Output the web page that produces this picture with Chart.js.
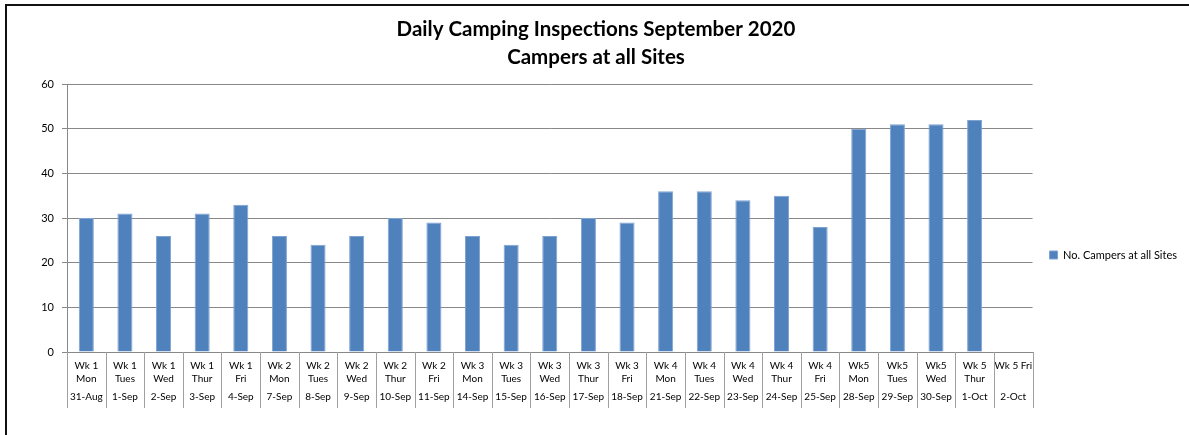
<!DOCTYPE html>
<html>
<head>
<meta charset="utf-8">
<script src="https://cdn.jsdelivr.net/npm/chart.js@4"></script>
<style>
  html, body { margin: 0; padding: 0; background: #fff; }
  #wrap { position: relative; width: 1189px; height: 435px; }
  #frame {
    position: absolute; left: 5px; top: 4px; right: 0; bottom: 0;
    border-left: 2px solid #111; border-top: 2px solid #111;
  }
  canvas { position: absolute; left: 0; top: 0; }
</style>
</head>
<body>
<div id="wrap">
  <div id="frame"></div>
  <canvas id="chart" width="1189" height="435"></canvas>
</div>
<script>
const dayLabels = [
  ["Wk 1", "Mon"], ["Wk 1", "Tues"], ["Wk 1", "Wed"], ["Wk 1", "Thur"], ["Wk 1", "Fri"],
  ["Wk 2", "Mon"], ["Wk 2", "Tues"], ["Wk 2", "Wed"], ["Wk 2", "Thur"], ["Wk 2", "Fri"],
  ["Wk 3", "Mon"], ["Wk 3", "Tues"], ["Wk 3", "Wed"], ["Wk 3", "Thur"], ["Wk 3", "Fri"],
  ["Wk 4", "Mon"], ["Wk 4", "Tues"], ["Wk 4", "Wed"], ["Wk 4", "Thur"], ["Wk 4", "Fri"],
  ["Wk5", "Mon"], ["Wk5", "Tues"], ["Wk5", "Wed"], ["Wk 5", "Thur"], "Wk 5 Fri"
];
const dateLabels = [
  "31-Aug", "1-Sep", "2-Sep", "3-Sep", "4-Sep",
  "7-Sep", "8-Sep", "9-Sep", "10-Sep", "11-Sep",
  "14-Sep", "15-Sep", "16-Sep", "17-Sep", "18-Sep",
  "21-Sep", "22-Sep", "23-Sep", "24-Sep", "25-Sep",
  "28-Sep", "29-Sep", "30-Sep", "1-Oct", "2-Oct"
];
const campers = [
  30, 31, 26, 31, 33,
  26, 24, 26, 30, 29,
  26, 24, 26, 30, 29,
  36, 36, 34, 35, 28,
  50, 51, 51, 52, null
];
const yTicks = [0, 10, 20, 30, 40, 50, 60];

const FONT = "Lato, 'Open Sans', sans-serif";

// vertical separators between categories, running through both label rows
const separators = {
  id: "separators",
  afterDraw(chart) {
    const xs = chart.scales.x, x2 = chart.scales.x2;
    const n = dateLabels.length;
    const half = (xs.getPixelForValue(1) - xs.getPixelForValue(0)) / 2;
    const ctx = chart.ctx;
    ctx.save();
    ctx.strokeStyle = "#a0a0a0";
    ctx.lineWidth = 1;
    ctx.beginPath();
    for (let i = 0; i <= n; i++) {
      const x = Math.round(xs.getPixelForValue(Math.min(i, n - 1)) + (i < n ? -half : half)) + 0.5;
      ctx.moveTo(x, xs.top);
      ctx.lineTo(x, x2.bottom);
    }
    ctx.stroke();
    ctx.restore();
  }
};

new Chart(document.getElementById("chart"), {
  type: "bar",
  data: {
    labels: dayLabels,
    datasets: [{
      label: "No. Campers at all Sites",
      data: campers,
      backgroundColor: "#4F81BD",
      borderColor: "#7FA3D1",
      borderWidth: 1,
      borderSkipped: "bottom",
      barPercentage: 0.39,
      categoryPercentage: 1
    }]
  },
  options: {
    responsive: false,
    animation: false,
    layout: { padding: { left: 5, right: 2, top: 10, bottom: 27 } },
    plugins: {
      title: {
        display: true,
        text: ["Daily Camping Inspections September 2020", "Campers at all Sites"],
        color: "#000",
        font: { family: FONT, size: 20.5, weight: "bold", lineHeight: 1.37 },
        padding: { top: 5, bottom: 13 }
      },
      legend: {
        position: "right",
        title: { display: true, text: " ", font: { size: 10, lineHeight: 1.2 }, padding: { top: 0, bottom: 80 } },
        labels: {
          boxWidth: 8, boxHeight: 8, padding: 17,
          color: "#000",
          font: { family: FONT, size: 11 }
        }
      },
      tooltip: { enabled: false }
    },
    scales: {
      x: {
        type: "category",
        offset: true,
        grid: { display: false, drawTicks: false },
        border: { display: true, color: "#888" },
        afterFit(scale) { scale.height = 41; },
        ticks: {
          autoSkip: false, maxRotation: 0, padding: 7,
          color: "#000",
          font: { family: FONT, size: 10, lineHeight: 1.3 }
        }
      },
      x2: {
        type: "category",
        labels: dateLabels,
        position: "bottom",
        offset: true,
        grid: { display: false, drawTicks: false },
        border: { display: false },
        afterFit(scale) { scale.height = 15; },
        ticks: {
          autoSkip: false, maxRotation: 0, padding: -2,
          color: "#000",
          font: { family: FONT, size: 10, lineHeight: 1.2 }
        }
      },
      y: {
        min: 0, max: 60,
        afterBuildTicks(scale) { scale.ticks = yTicks.map(v => ({ value: v })); },
        afterFit(scale) { scale.width = 62; },
        grid: { color: "#888", tickLength: 5 },
        border: { display: true, color: "#888" },
        ticks: {
          padding: 8,
          color: "#000",
          font: { family: FONT, size: 11 }
        }
      }
    }
  },
  plugins: [separators]
});
</script>
</body>
</html>
